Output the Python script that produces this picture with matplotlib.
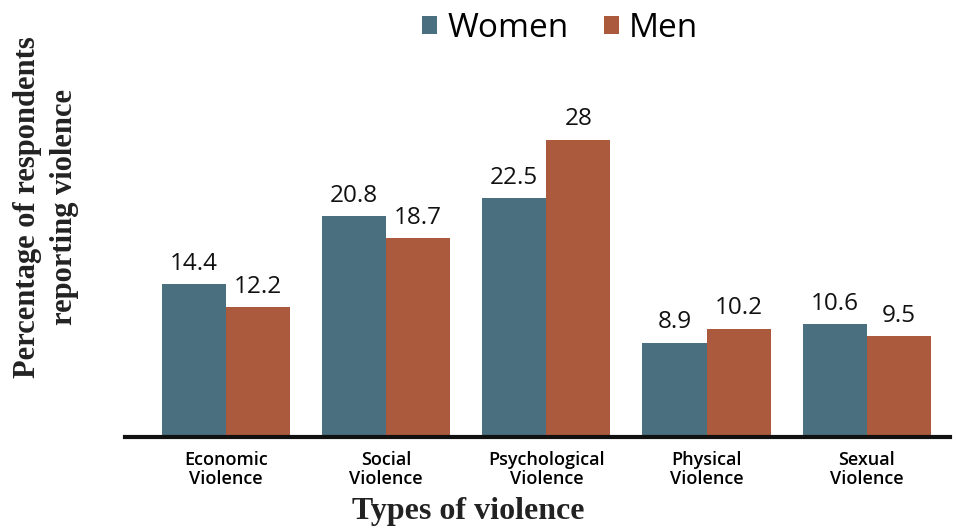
import matplotlib
matplotlib.use("Agg")
import matplotlib.pyplot as plt
import numpy as np

# data
categories = ["Economic\nViolence", "Social\nViolence", "Psychological\nViolence",
              "Physical\nViolence", "Sexual\nViolence"]
women = [14.4, 20.8, 22.5, 8.9, 10.6]
men = [12.2, 18.7, 28, 10.2, 9.5]

women_color = "#4a6f7e"
men_color = "#ab5a3d"

fig = plt.figure(figsize=(9.56, 5.30), dpi=100)
ax = fig.add_axes([0.1308, 0.1755, 0.8629, 0.711])

x = np.arange(len(categories))
w = 0.4
b1 = ax.bar(x - w / 2, women, w, color=women_color, label="Women")
b2 = ax.bar(x + w / 2, men, w, color=men_color, label="Men")

# value labels above bars
for bars, vals in [(b1, women), (b2, men)]:
    for bar, v in zip(bars, vals):
        ax.text(bar.get_x() + bar.get_width() / 2, v + 0.8, f"{v:g}",
                ha="center", va="bottom", fontsize=17.5, family="Open Sans",
                color="#111111")

ax.set_xlim(-0.63, 4.52)
ax.set_ylim(0, 35.5)
ax.set_yticks([])
ax.set_xticks(x)
ax.set_xticklabels(categories, fontsize=13, family="Open Sans",
                   fontweight="semibold", linespacing=1.05)
ax.tick_params(axis="x", length=0, pad=10)

for s in ["top", "right", "left"]:
    ax.spines[s].set_visible(False)
ax.spines["bottom"].set_linewidth(3)
ax.spines["bottom"].set_color("#111111")

fig.text(0.490, 0.034, "Types of violence", ha="center", va="center",
         fontsize=23, family="Liberation Serif", fontweight="bold",
         color="#222222")
fig.text(0.048, 0.61, "Percentage of respondents\nreporting violence",
         rotation=90, ha="center", va="center", fontsize=22,
         family="Liberation Serif", fontweight="bold", color="#222222",
         linespacing=1.35)

leg = fig.legend(handles=[b1, b2], loc="center",
                 bbox_to_anchor=(0.586, 0.947), ncol=2, frameon=False,
                 prop={"family": "Open Sans", "size": 24},
                 handlelength=0.45, handleheight=0.45, handletextpad=0.3,
                 columnspacing=1.05)

fig.savefig("out.png", dpi=100)
